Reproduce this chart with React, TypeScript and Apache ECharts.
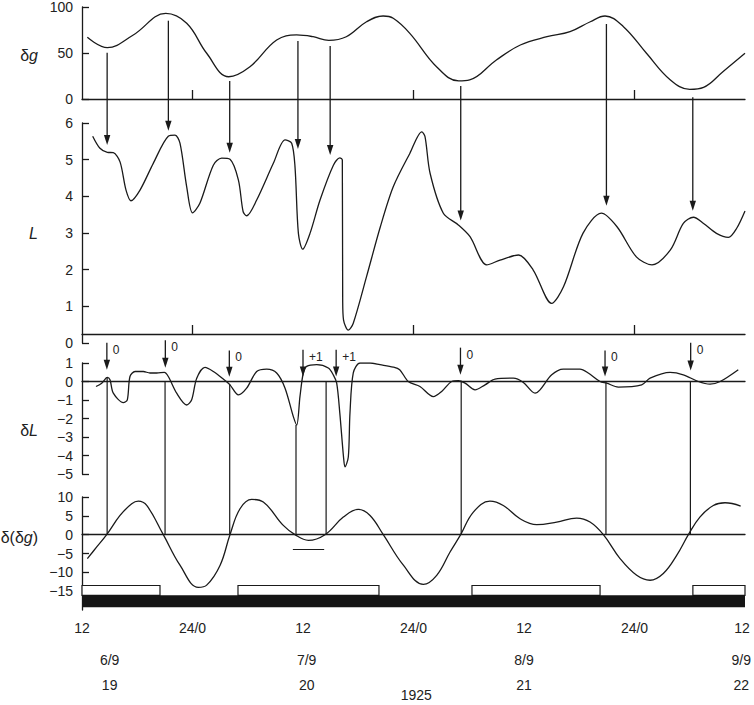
import React, { useEffect, useRef } from "react";
import * as echarts from "echarts";

// ---- data (time in hours from 12h on 6/9/1925) ----
const dgHours = [0.58, 2.75, 5.57, 9.1, 11.37, 13.54, 15.93, 18.24, 21.14, 23.3, 25.1, 26.8, 28.7, 30.9, 32.7, 33.8, 35.6, 38.5, 40.9, 42.1, 45.0, 47.6, 50.5, 53.0, 55.2, 56.8, 58.8, 61.3, 63.9, 66.0, 67.5, 69.6, 72.0];
const dgValues = [67, 55.8, 69.6, 93, 82.3, 49.7, 24.2, 35.1, 64.1, 69.6, 67.7, 63.8, 67.7, 84, 90.2, 87.7, 71.4, 35.1, 19.6, 20.7, 42.4, 58.7, 67.7, 73.2, 84, 90.2, 78.6, 49.7, 20.7, 10.5, 12.7, 29.7, 49.7];

const lHours = [1.16, 1.95, 2.75, 3.4, 4.13, 4.78, 5.32, 6.3, 7.74, 9.37, 10.1, 10.64, 11.37, 12.0, 12.8, 14.26, 15.17, 16.07, 16.98, 17.5, 17.88, 18.97, 20.78, 22.05, 22.77, 23.13, 23.5, 23.97, 24.76, 25.85, 27.3, 28.0, 28.27, 28.31, 28.4, 28.92, 29.46, 30.9, 32.4, 33.8, 35.6, 36.9, 37.25, 37.8, 39.24, 40.87, 42.14, 43.95, 45.4, 47.4, 49.0, 51.0, 52.3, 54.4, 56.4, 58.1, 60.2, 61.9, 63.9, 65.3, 66.4, 67.5, 68.9, 70.2, 71.1, 72.0];
const lValues = [5.64, 5.31, 5.2, 5.19, 4.94, 4.17, 3.88, 4.17, 4.9, 5.64, 5.67, 5.45, 4.26, 3.55, 3.81, 4.85, 5.04, 5.01, 4.45, 3.58, 3.47, 3.9, 4.9, 5.54, 5.45, 4.81, 2.99, 2.56, 2.99, 3.9, 4.85, 5.05, 4.99, 1.17, 0.63, 0.35, 0.54, 1.81, 3.17, 4.26, 5.17, 5.76, 5.63, 4.63, 3.54, 3.22, 2.9, 2.13, 2.26, 2.4, 1.99, 1.08, 1.54, 2.99, 3.54, 3.17, 2.35, 2.13, 2.54, 3.26, 3.43, 3.26, 2.99, 2.88, 3.13, 3.6];

const dlHours = [1.52, 2.14, 2.75, 3.04, 3.4, 4.49, 4.92, 5.21, 5.76, 6.66, 7.38, 8.11, 8.94, 9.37, 10.28, 11.37, 11.91, 12.46, 13.36, 14.26, 15.35, 16.07, 16.98, 17.88, 18.97, 20.06, 21.14, 22.05, 22.95, 23.32, 23.67, 24.03, 24.4, 25.49, 26.75, 27.29, 27.66, 28.0, 28.4, 28.56, 28.92, 29.1, 29.46, 30.19, 31.28, 32.36, 33.8, 34.5, 35.43, 36.7, 38.15, 39.06, 40.15, 40.87, 41.6, 42.68, 43.77, 44.85, 46.84, 47.93, 49.2, 49.74, 51.01, 52.27, 54.08, 54.98, 56.26, 56.98, 58.24, 60.78, 61.69, 63.86, 65.3, 66.93, 68.2, 69.3, 71.27];
const dlValues = [-0.27, -0.09, 0.22, 0.09, -0.63, -1.14, -0.99, 0.27, 0.54, 0.54, 0.46, 0.46, 0.49, 0.27, -0.63, -1.27, -0.99, 0.18, 0.76, 0.54, 0.13, -0.18, -0.72, -0.36, 0.54, 0.67, 0.46, -0.36, -1.9, -2.35, -0.82, 0.46, 0.82, 0.91, 0.73, 0.36, -0.09, -1.72, -4.08, -4.62, -4.08, -1.72, 0.46, 1.0, 1.0, 0.91, 0.78, 0.64, 0, -0.27, -0.82, -0.54, 0, 0.04, -0.09, -0.45, -0.18, 0.13, 0.18, -0.05, -0.63, -0.45, 0.36, 0.67, 0.67, 0.46, 0, -0.09, -0.3, -0.18, 0.18, 0.49, 0.36, 0, -0.14, 0, 0.64];

const ddHours = [0.58, 1.6, 2.68, 4.13, 5.4, 6.11, 7.03, 8.83, 10.64, 12.63, 13.54, 15.0, 16.07, 17.16, 18.43, 19.69, 21.86, 23.13, 24.58, 26.39, 28.38, 30.0, 31.28, 32.72, 34.9, 37.07, 38.52, 39.97, 41.12, 42.5, 44.3, 45.75, 47.57, 49.38, 51.55, 53.72, 55.17, 56.62, 58.43, 60.24, 61.69, 63.13, 64.58, 65.85, 67.1, 68.56, 69.83, 71.53];
const ddValues = [-6.35, -3.26, 0, 5.1, 8.2, 8.9, 7.75, 0, -8.1, -14.0, -13.4, -8.1, 0, 6.88, 9.35, 8.65, 2.46, 0, -1.5, 0, 4.67, 6.7, 5.1, 0, -8.1, -13.2, -10.8, -4.6, 0, 6.0, 8.9, 7.75, 4.23, 2.65, 3.35, 4.4, 3.35, 0, -6.35, -10.8, -12.1, -10.3, -5.5, 0, 4.67, 7.75, 8.47, 7.6];

// arrows δg -> L
const dgArrowHours = [2.73, 9.38, 16.04, 23.45, 26.95, 41.13, 56.95, 66.33];
const dgArrowFrom = [50.3, 85.1, 19.6, 63, 57.6, 14.1, 81.5, 1.8];
const lArrowTo = [5.4, 5.79, 5.19, 5.29, 5.13, 3.34, 3.74, 3.61];

// arrows in δL panel
const dlArrowHours = [2.7, 9.05, 16.0, 24.0, 27.6, 41.1, 56.8, 66.1];
const dlArrowFrom = [2.1, 2.23, 1.68, 1.72, 1.72, 1.83, 1.68, 2.09];
const dlArrowTo = [0.64, 0.74, 0.26, 0.27, 0.27, 0.36, 0.27, 0.6];
const dlArrowLabels = ["0", "0", "0", "+1", "+1", "0", "0", "0"];

// vertical connectors δL -> δ(δg)
const linkHours = [2.73, 9.02, 16.04, 23.24, 26.51, 41.18, 56.9, 66.07];
const linkFrom = [0.2, 0, -0.15, -2.35, 0, 0, 0, 0];

// short bar under δ(δg)
const segHours = [22.9, 26.3];
const segValue = -4.0;

// night intervals (open boxes) and black base bar
const nightStart = [0, 16.94, 42.35, 66.34];
const nightEnd = [8.47, 32.25, 56.26, 72];
const boxTop = -13.5;
const boxBottom = -16.1;
const barBottom = -19.3;

// x-axis texts
const tickHours = [0, 12, 24, 36, 48, 60, 72];
const tickLabels = ["12", "24/0", "12", "24/0", "12", "24/0", "12"];
const dateHours = [3.0, 24.4, 48.0, 71.6];
const dateLabels = ["6/9", "7/9", "8/9", "9/9"];
const dayLabels = ["19", "20", "21", "22"];
const yearHour = 36.3;
const yearLabel = "1925";

const FONT = '"Liberation Sans", Arial, Helvetica, sans-serif';
const INK = "#1a1a1a";

const zip = (h: number[], v: number[]) => h.map((x, i) => [x, v[i]]);
const minus = (v: number) => String(v).replace("-", "\u2212");

export default function App() {
  const ref = useRef<HTMLDivElement>(null);
  useEffect(() => {
    if (!ref.current) return;
    const chart = echarts.init(ref.current, undefined, { renderer: "svg" });
    const grids = [
      { top: 7, height: 92 },
      { top: 123, height: 220 },
      { top: 363, height: 111 },
      { top: 497, height: 113 },
    ].map((g) => ({ left: 82, width: 663, ...g }));

    const lineStyle = { color: INK, width: 1.3 };
    const yLabel = { margin: 9, fontSize: 14, color: "#222", fontFamily: FONT, formatter: (v: number) => minus(v) };

    const xAxes = [0, 1, 2, 3].map((i) => ({
      type: "value",
      gridIndex: i,
      min: 0,
      max: 72,
      splitLine: { show: false },
      axisLabel: { show: false },
      axisLine: { show: true, onZero: i >= 2, lineStyle },
      axisTick:
        i < 2
          ? { show: true, inside: true, length: 9, customValues: [12, 36, 60], lineStyle }
          : { show: false },
      offset: i === 1 ? -9 : 0,
      z: 1,
    }));

    const yBase = {
      type: "value",
      splitLine: { show: false },
      axisLine: { show: true, onZero: false, lineStyle },
      axisTick: { show: true, inside: true, length: 7, lineStyle },
      axisLabel: yLabel,
    };
    const yAxes = [
      { ...yBase, gridIndex: 0, min: 0, max: 100, interval: 50 },
      { ...yBase, gridIndex: 1, min: 0, max: 6, interval: 1 },
      { ...yBase, gridIndex: 2, min: -5, max: 1, interval: 1 },
      {
        ...yBase,
        gridIndex: 3,
        min: -20,
        max: 10,
        interval: 5,
        axisTick: { ...yBase.axisTick, customValues: [-15, -10, -5, 0, 5, 10] },
        axisLabel: { ...yLabel, customValues: [-15, -10, -5, 0, 5, 10] },
      },
    ];

    const mkLine = (i: number, h: number[], v: number[], smooth: number) => ({
      type: "line",
      xAxisIndex: i,
      yAxisIndex: i,
      data: zip(h, v),
      smooth,
      symbol: "none",
      lineStyle: { color: INK, width: 1.3 },
      z: 3,
    });

    const boxes = nightStart.map((s, i) => [
      { coord: [s, boxTop], itemStyle: { color: "#fff", borderColor: INK, borderWidth: 1.2 } },
      { coord: [nightEnd[i], boxBottom] },
    ]);

    const series: any[] = [
      mkLine(0, dgHours, dgValues, 0.4),
      mkLine(1, lHours, lValues, 0.3),
      mkLine(2, dlHours, dlValues, 0.3),
      {
        ...mkLine(3, ddHours, ddValues, 0.4),
        markArea: {
          silent: true,
          data: [
            ...boxes,
            [
              { coord: [0, boxBottom], itemStyle: { color: "#151515", borderWidth: 0 } },
              { coord: [72, barBottom] },
            ],
          ],
        },
        markLine: {
          silent: true,
          symbol: "none",
          label: { show: false },
          lineStyle: { color: INK, width: 1.2, type: "solid" },
          data: [[{ coord: [segHours[0], segValue] }, { coord: [segHours[1], segValue] }]],
        },
      },
    ];

    chart.setOption({
      animation: false,
      backgroundColor: "#fff",
      grid: grids,
      xAxis: xAxes,
      yAxis: yAxes,
      series,
    });

    const px = (g: number, h: number, v: number) =>
      chart.convertToPixel({ xAxisIndex: g, yAxisIndex: g }, [h, v]) as number[];

    const gfx: any[] = [];
    const arrow = (x: number, y1: number, y2: number) => {
      gfx.push({ type: "line", shape: { x1: x, y1, x2: x, y2: y2 - 6 }, style: { stroke: INK, lineWidth: 1.3 }, z: 10 });
      gfx.push({
        type: "polygon",
        shape: { points: [[x - 3.2, y2 - 10], [x + 3.2, y2 - 10], [x, y2]] },
        style: { fill: INK },
        z: 10,
      });
    };
    const text = (x: number, y: number, t: string, size = 14, align = "center") =>
      gfx.push({
        type: "text",
        x,
        y,
        style: { text: t, fontSize: size, fontFamily: FONT, fill: "#222", textAlign: align, textVerticalAlign: "middle", align, verticalAlign: "middle" },
        z: 10,
      });

    dgArrowHours.forEach((h, i) => {
      const a = px(0, h, dgArrowFrom[i]);
      const b = px(1, h, lArrowTo[i]);
      arrow(a[0], a[1], b[1]);
    });
    dlArrowHours.forEach((h, i) => {
      const a = px(2, h, dlArrowFrom[i]);
      const b = px(2, h, dlArrowTo[i]);
      arrow(a[0], a[1], b[1]);
      text(a[0] + 6, a[1] + 7, dlArrowLabels[i], 12, "left");
    });
    linkHours.forEach((h, i) => {
      const a = px(2, h, linkFrom[i]);
      const b = px(3, h, 0);
      gfx.push({ type: "line", shape: { x1: a[0], y1: a[1], x2: b[0], y2: b[1] }, style: { stroke: INK, lineWidth: 1.2 }, z: 2 });
    });
    tickHours.forEach((h, i) => text(Math.min(px(3, h, 0)[0], 742), 628, tickLabels[i]));
    dateHours.forEach((h, i) => {
      const x = px(3, h, 0)[0];
      text(x, 660, dateLabels[i]);
      text(x, 685, dayLabels[i]);
    });
    text(px(3, yearHour, 0)[0], 695, yearLabel);

    const name = (y: number, parts: [string, boolean][]) =>
      gfx.push({
        type: "text",
        x: 38,
        y,
        style: {
          text: parts.map(([t, it]) => `{${it ? "i" : "n"}|${t}}`).join(""),
          textAlign: "right",
          align: "right",
          textVerticalAlign: "middle",
          verticalAlign: "middle",
          rich: {
            n: { fontSize: 16, fontFamily: FONT, fill: "#222", color: "#222" },
            i: { fontSize: 16, fontFamily: FONT, fontStyle: "italic", fill: "#222", color: "#222" },
          },
        },
        z: 10,
      });
    name(55, [["δ", false], ["g", true]]);
    name(233, [["L", true]]);
    name(430, [["δ", false], ["L", true]]);
    name(537, [["δ(δ", false], ["g", true], [")", false]]);

    chart.setOption({ graphic: { elements: gfx } });

    return () => chart.dispose();
  }, []);

  return <div ref={ref} style={{ position: "fixed", left: 0, top: 0, width: 754, height: 705, background: "#fff" }} />;
}
